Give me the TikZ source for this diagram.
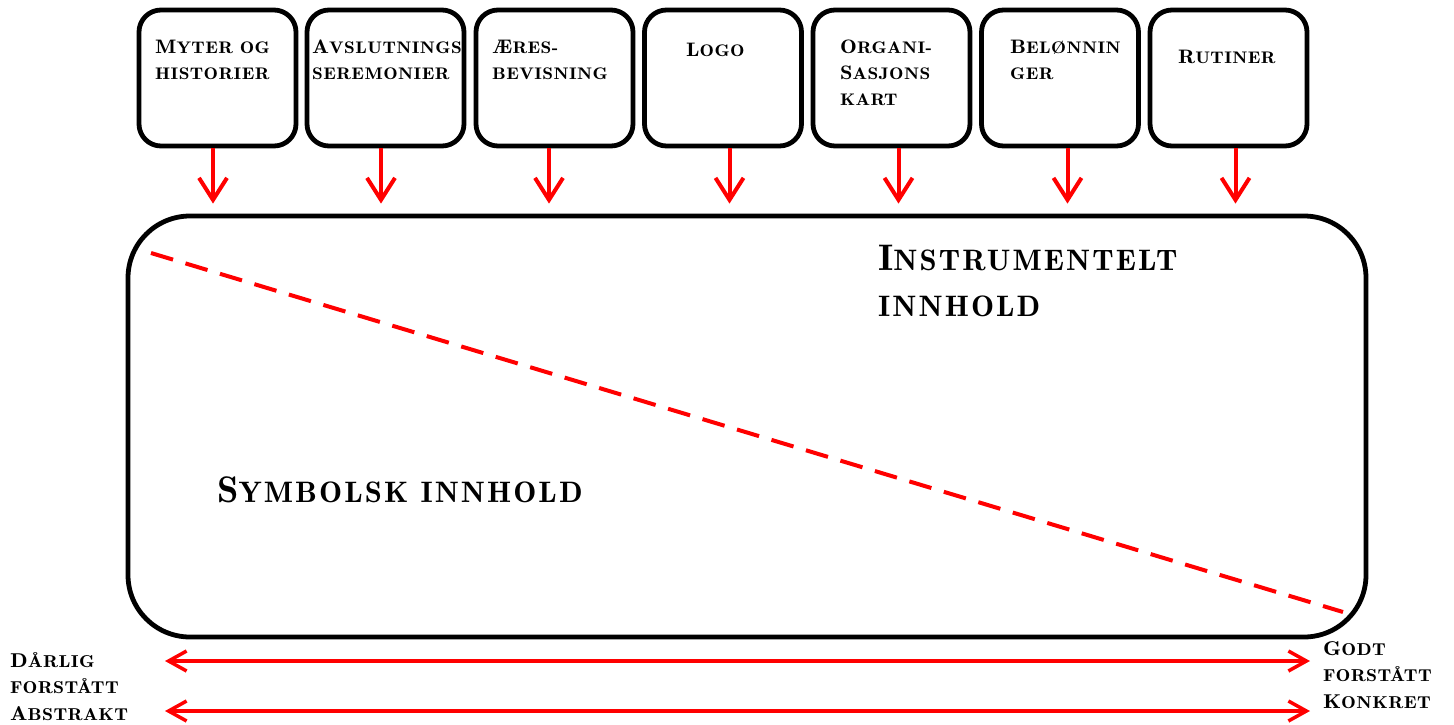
\documentclass[tikz,border=0pt]{standalone}
\usepackage{fontspec}
\usetikzlibrary{arrows.meta}
% engraved-style lettering: full capitals plus reduced capitals
\newfontfamily\cpfont{lmromandemi10-regular.otf}[FakeStretch=1.15,LetterSpace=3]
\newfontfamily\cplow{lmromandemi10-regular.otf}[Scale=0.86,FakeStretch=1.15,LetterSpace=2.5]
\newfontfamily\cpbig{lmromandemi10-regular.otf}[FakeStretch=1.04,LetterSpace=5]
\newfontfamily\cpbiglow{lmromandemi10-regular.otf}[Scale=0.8,FakeStretch=1.04,LetterSpace=7]
\newcommand\lo[1]{{\cplow #1}}
\newcommand\blo[1]{{\cpbiglow #1}}
\definecolor{arrowred}{RGB}{255,0,0}
\begin{document}
\begin{tikzpicture}[x=1pt,y=-1pt,
  topbox/.style={draw=black,line width=4.8pt,rounded corners=22pt,minimum width=157pt,minimum height=136pt,inner sep=0pt},
  mainbox/.style={draw=black,line width=4.8pt,rounded corners=62pt,minimum width=1238pt,minimum height=421pt,inner sep=0pt},
  lbl/.style={font=\cpfont\fontsize{19.5}{26}\selectfont,align=left,anchor=north west,inner sep=0pt},
  biglbl/.style={font=\cpbig\fontsize{37}{46}\selectfont,align=left,anchor=north west,inner sep=0pt},
  sidelbl/.style={font=\cpfont\fontsize{20}{26.5}\selectfont,align=left,anchor=north west,inner sep=0pt},
  downarr/.style={draw=arrowred,line width=4pt,-{Straight Barb[length=22pt,width=28pt,line width=4pt]},shorten >=10pt},
  spanarr/.style={draw=arrowred,line width=3.5pt,{Straight Barb[length=18pt,width=20pt,line width=3.5pt]}-{Straight Barb[length=18pt,width=20pt,line width=3.5pt]}},
  divider/.style={draw=arrowred,line width=4pt,dash pattern=on 23pt off 13pt}]
\useasboundingbox (0,0) rectangle (1454,724);

% top row of boxes
\node[topbox] (b1) at (217.5,78) {};
\node[topbox] (b2) at (385.5,78) {};
\node[topbox] (b3) at (554.5,78) {};
\node[topbox] (b4) at (723,78) {};
\node[topbox] (b5) at (891.5,78) {};
\node[topbox] (b6) at (1060,78) {};
\node[topbox] (b7) at (1228.5,78) {};

% labels of the boxes
\node[lbl] (t1) at (155,40) {M\lo{YTER OG}\\\lo{HISTORIER}};
\node[lbl] (t2) at (312,40) {A\lo{VSLUTNINGS}\\\lo{SEREMONIER}};
\node[lbl] (t3) at (492,40) {Æ\lo{RES-}\\\lo{BEVISNING}};
\node[lbl] (t4) at (686,43) {L\lo{OGO}};
\node[lbl] (t5) at (840,40) {O\lo{RGANI-}\\S\lo{ASJONS}\\\lo{KART}};
\node[lbl] (t6) at (1010,40) {B\lo{ELØNNIN}\\\lo{GER}};
\node[lbl] (t7) at (1178,50) {R\lo{UTINER}};

% main box
\node[mainbox] (main) at (747,426.5) {};

% arrows from each box into the main box
\draw[downarr] ([xshift=-4.5pt]b1.south) -- ([xshift=-4.5pt]b1.south |- main.north);
\draw[downarr] ([xshift=-4.5pt]b2.south) -- ([xshift=-4.5pt]b2.south |- main.north);
\draw[downarr] ([xshift=-5.5pt]b3.south) -- ([xshift=-5.5pt]b3.south |- main.north);
\draw[downarr] ([xshift=6.5pt]b4.south) -- ([xshift=6.5pt]b4.south |- main.north);
\draw[downarr] ([xshift=7pt]b5.south) -- ([xshift=7pt]b5.south |- main.north);
\draw[downarr] ([xshift=7.5pt]b6.south) -- ([xshift=7.5pt]b6.south |- main.north);
\draw[downarr] ([xshift=7pt]b7.south) -- ([xshift=7pt]b7.south |- main.north);

% diagonal divider
\coordinate (d1) at (151,253);
\coordinate (d2) at (1343,612);
\draw[divider] (d1) -- (d2);

\node[biglbl] (inst) at (878,245) {I\blo{NSTRUMENTELT}\\\blo{INNHOLD}};
\node[biglbl] (symb) at (217,477) {S\blo{YMBOLSK INNHOLD}};

% scale arrows below
\coordinate (l1) at (165,661);
\coordinate (r1) at (1310,661);
\coordinate (l2) at (165,711);
\coordinate (r2) at (1310,711);
\draw[spanarr] (l1) -- (r1);
\draw[spanarr] (l2) -- (r2);

\node[sidelbl] (left) at (10,652) {D\lo{ÅRLIG}\\\lo{FORSTÅTT}\\A\lo{BSTRAKT}};
\node[sidelbl] (right) at (1323,641) {G\lo{ODT}\\\lo{FORSTÅTT}\\K\lo{ONKRET}};
\end{tikzpicture}
\end{document}
